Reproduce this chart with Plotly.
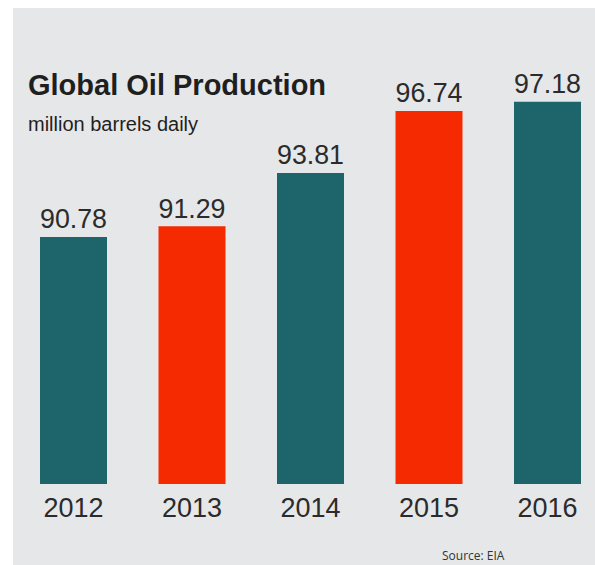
import plotly.graph_objects as go

years = ["2012", "2013", "2014", "2015", "2016"]
production = [90.78, 91.29, 93.81, 96.74, 97.18]
value_labels = ["90.78", "91.29", "93.81", "96.74", "97.18"]
bar_colors = ["#1e656b", "#f52a00", "#1e656b", "#f52a00", "#1e656b"]

title_text = "Global Oil Production"
subtitle_text = "million barrels daily"
source_text = "Source: EIA"

W, H = 595, 565
L, R, T, B = 14, 0, 60, 81
plot_w = W - L - R
plot_h = H - T - B
step = 118.5
px_per_unit = 21.16
y_base = 79.11
y_top = y_base + plot_h / px_per_unit
first_center = 73.5
x0 = -0.5 - (first_center - step / 2 - L) / step
x1 = x0 + plot_w / step


def px_to_paper_x(px):
    return (px - L) / plot_w


def px_to_paper_y(py):
    return (H - B - py) / plot_h


FONT = "Liberation Sans, Arial, sans-serif"

fig = go.Figure(
    go.Bar(
        x=years,
        y=production,
        marker=dict(color=bar_colors, line=dict(width=0)),
        text=value_labels,
        textposition="outside",
        textfont=dict(family=FONT, size=28, color="#2b2b2b"),
        cliponaxis=False,
        hoverinfo="skip",
    )
)

fig.update_layout(
    width=W,
    height=H,
    margin=dict(l=L, r=R, t=T, b=B, pad=0),
    paper_bgcolor="#ffffff",
    plot_bgcolor="rgba(0,0,0,0)",
    bargap=1 - 67 / step,
    showlegend=False,
    xaxis=dict(
        type="category",
        range=[x0, x1],
        showgrid=False,
        zeroline=False,
        showline=False,
        ticks="",
        ticklabelstandoff=5,
        tickfont=dict(family=FONT, size=27, color="#2b2b2b"),
        fixedrange=True,
    ),
    yaxis=dict(
        range=[y_base, y_top],
        visible=False,
        fixedrange=True,
    ),
    shapes=[
        dict(
            type="rect",
            xref="paper",
            yref="paper",
            x0=px_to_paper_x(13),
            x1=px_to_paper_x(W + 5),
            y0=px_to_paper_y(H + 5),
            y1=px_to_paper_y(8),
            fillcolor="#e6e7e9",
            line=dict(width=0),
            layer="below",
        )
    ],
    annotations=[
        dict(
            text=title_text,
            xref="paper",
            yref="paper",
            x=px_to_paper_x(26),
            y=px_to_paper_y(103),
            xanchor="left",
            yanchor="bottom",
            showarrow=False,
            font=dict(family=FONT, size=29, color="#1f1f1f", weight="bold"),
        ),
        dict(
            text=subtitle_text,
            xref="paper",
            yref="paper",
            x=px_to_paper_x(26),
            y=px_to_paper_y(137),
            xanchor="left",
            yanchor="bottom",
            showarrow=False,
            font=dict(family=FONT, size=20, color="#1f1f1f"),
        ),
        dict(
            text=source_text,
            xref="paper",
            yref="paper",
            x=px_to_paper_x(507),
            y=px_to_paper_y(566),
            xanchor="right",
            yanchor="bottom",
            showarrow=False,
            font=dict(family="Open Sans, sans-serif", size=12, color="#333333"),
        ),
    ],
)

fig.write_html(
    "out.html",
    config={"displayModeBar": False},
    post_script=(
        "document.body.style.margin='0';"
        "document.body.style.padding='0';"
        "document.body.style.overflow='hidden';"
        "document.documentElement.style.overflow='hidden';"
    ),
)
